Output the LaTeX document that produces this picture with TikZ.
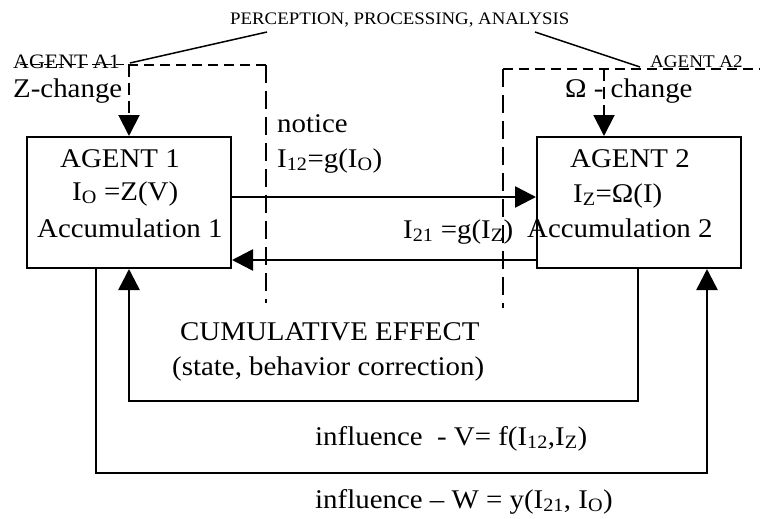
\documentclass[tikz,border=0pt]{standalone}
\usepackage{fontspec}
\setmainfont{Liberation Serif}[FakeStretch=1.07]
\usetikzlibrary{arrows.meta}
\newcommand{\sbs}[1]{\textsubscript{#1}}
\begin{document}
\begin{tikzpicture}[x=1pt,y=-1pt,
  box/.style={draw, line width=2pt, minimum width=204pt, minimum height=131pt, inner sep=0pt},
  txt/.style={inner sep=0pt, anchor=base west, font=\fontsize{27}{32}\selectfont},
  smalltxt/.style={inner sep=0pt, anchor=base west, font=\fontsize{#1}{#1}\selectfont},
  conn/.style={line width=2.5pt, -{Triangle[length=21pt,width=21pt]}},
  dashh/.style={line width=2pt, dash pattern=on 10pt off 6pt},
  dashv/.style={line width=2pt, dash pattern=on 18pt off 8pt},
  dasharrow/.style={line width=2pt, dash pattern=on 12pt off 6pt, -{Triangle[length=21pt,width=21pt]}},
  lead/.style={line width=1.5pt},
  strike/.style={line width=1pt, dash pattern=on 8pt off 4pt}
]
\useasboundingbox (0,0) rectangle (760,519);
\fill[white] (0,0) rectangle (760,519);

% boxes
\node[box] (box1) at (129,202.5) {};
\node[box] (box2) at (639,202.5) {};

% box texts
\node[txt] (t1a) at (60,167) {AGENT 1};
\node[txt] (t1b) at (72,200) {I\sbs{O} =Z(V)};
\node[txt] (t1c) at (37,237) {Accumulation 1};
\node[txt] (t2a) at (570,167) {AGENT 2};
\node[txt] (t2b) at (573,202) {I\sbs{Z}=Ω(I)};
\node[txt] (t2c) at (527,237) {Accumulation 2};

% other texts
\node[smalltxt=17.6] (perc) at (230,25) {PERCEPTION, PROCESSING, ANALYSIS};
\node[smalltxt=20.5] (ag1) at (13,69) {AGENT A1};
\node[smalltxt=17.8] (ag2) at (650,67) {AGENT A2};
\node[txt] (zch) at (13,97) {Z-change};
\node[txt] (och) at (565,97) {Ω - change};
\node[txt] (not) at (277,132) {notice};
\node[txt] (i12) at (277,167) {I\sbs{12}=g(I\sbs{O})};
\node[txt] (i21) at (403,238) {I\sbs{21} =g(I\sbs{Z})};
\node[txt] (cum) at (180,340) {CUMULATIVE EFFECT};
\node[txt] (sta) at (172,375) {(state, behavior correction)};
\node[txt] (infv) at (315,445) {influence~ - V= f(I\sbs{12},I\sbs{Z})};
\node[txt] (infw) at (315,508) {influence -- W = y(I\sbs{21}, I\sbs{O})};

% coordinates
\coordinate (yA) at (0,197);
\coordinate (yB) at (0,260);
\coordinate (cL1) at (96,473);
\coordinate (cR1) at (707,473);
\coordinate (cR2) at (638,401);
\coordinate (cL2) at (129,401);
\coordinate (a1L) at (129,65);
\coordinate (a1R) at (266,65);
\coordinate (a1B) at (266,303);
\coordinate (s1) at (20,65);
\coordinate (a2L) at (503,69);
\coordinate (a2R) at (762,69);
\coordinate (a2B) at (503,308);
\coordinate (a2M) at (604,69);
\coordinate (l1) at (267,32);
\coordinate (l1e) at (130,63);
\coordinate (l2) at (535,32);
\coordinate (l2e) at (640,67);

% horizontal arrows between agents
\draw[conn] (box1.east |- yA) -- (box2.west |- yA);
\draw[conn] (box2.west |- yB) -- (box1.east |- yB);

% feedback loops
\draw[conn] (box1.south -| cL1) -- (cL1) -- (cR1) -- (box2.south -| cR1);
\draw[conn] (box2.south -| cR2) -- (cR2) -- (cL2) -- (box1.south -| cL2);

% dashed agent frames
\draw[dashh] (a1R) -- (a1L);
\draw[dashv] (a1R) -- (a1B);
\draw[strike] (s1) -- (a1L);
\draw[dasharrow] (a1L) -- (box1.north -| a1L);
\draw[dashh] (a2L) -- (a2R);
\draw[dashv] (a2L) -- (a2B);
\draw[dasharrow] (a2M) -- (box2.north -| a2M);

% leaders
\draw[lead] (l1) -- (l1e);
\draw[lead] (l2) -- (l2e);
\end{tikzpicture}
\end{document}
